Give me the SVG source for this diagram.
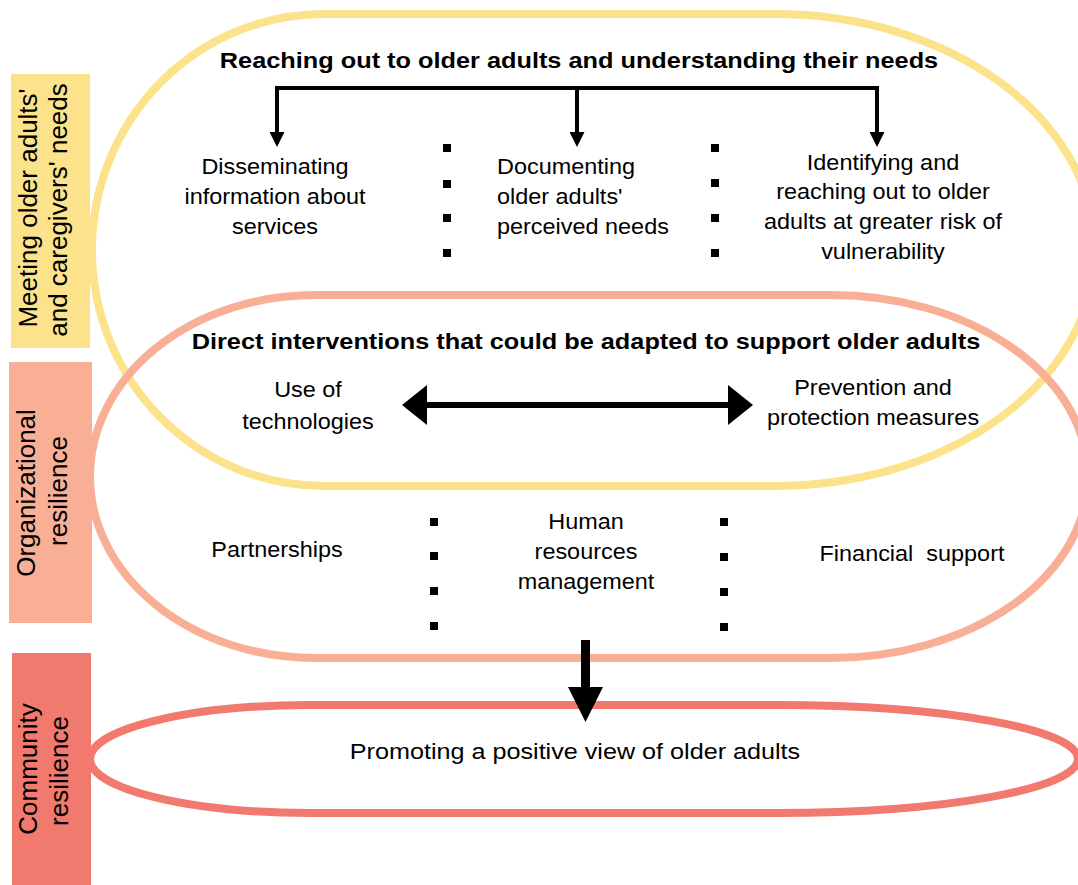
<svg xmlns="http://www.w3.org/2000/svg" width="1078" height="885" viewBox="0 0 1078 885">
  <style>
    .band { stroke: none; }
    .zone { fill: none; stroke-width: 8; }
    .yellow { fill: #FCE38B; }
    .salmon { fill: #F8AF95; }
    .red { fill: #F2796D; }
    .z-yellow { stroke: #FCE38B; }
    .z-salmon { stroke: #F8AF95; }
    .z-red { stroke: #F2796D; }
    text { font-family: "Liberation Sans", Arial, sans-serif; fill: #000; }
    .lbl { font-size: 26px; text-anchor: middle; }
    .t { font-size: 22px; }
    .b { font-size: 22.5px; font-weight: bold; }
    .mid { text-anchor: middle; }
    .thin { fill: none; stroke: #000; stroke-width: 4; }
    .thick { fill: none; stroke: #000; stroke-width: 6; }
  </style>
  <defs>
    <marker id="head-s" markerUnits="userSpaceOnUse" markerWidth="15" markerHeight="15" refX="0" refY="7.5" orient="auto-start-reverse" viewBox="0 0 15 15">
      <path d="M0,0 L15,7.5 L0,15 Z" fill="#000"/>
    </marker>
    <marker id="head-l" markerUnits="userSpaceOnUse" markerWidth="25" markerHeight="40" refX="0" refY="20" orient="auto-start-reverse" viewBox="0 0 25 40">
      <path d="M0,0 L25,20 L0,40 Z" fill="#000"/>
    </marker>
    <rect id="dot" width="8" height="8" fill="#000"/>
  </defs>

  <rect width="1078" height="885" fill="#fff"/>

  <!-- side bands -->
  <g id="band-needs">
    <rect class="band yellow" x="11" y="74" width="79" height="274"/>
    <text class="lbl" transform="translate(37 208) rotate(-90)">Meeting older adults'</text>
    <text class="lbl" transform="translate(67 210) rotate(-90)">and caregivers' needs</text>
  </g>
  <g id="band-organizational">
    <rect class="band salmon" x="9" y="362" width="83" height="261"/>
    <text class="lbl" transform="translate(35 493) rotate(-90)">Organizational</text>
    <text class="lbl" transform="translate(67 491) rotate(-90)">resilience</text>
  </g>
  <g id="band-community">
    <rect class="band red" x="12" y="653" width="79" height="232"/>
    <text class="lbl" transform="translate(37 769) rotate(-90)">Community</text>
    <text class="lbl" transform="translate(68 771) rotate(-90)">resilience</text>
  </g>

  <!-- rounded zones -->
  <g id="zone-needs">
    <path class="zone z-yellow" d="M324 14 H775 A320 236 0 0 1 1095 250 A320 236 0 0 1 775 486 H324 A232 236 0 0 1 92 250 A232 236 0 0 1 324 14 Z"/>
  </g>
  <g id="zone-organizational">
    <path class="zone z-salmon" d="M315 295 H831 A257 181.5 0 0 1 1088 476.5 A257 181.5 0 0 1 831 658 H315 A225 181.5 0 0 1 90 476.5 A225 181.5 0 0 1 315 295 Z"/>
  </g>
  <g id="zone-community">
    <path class="zone z-red" d="M310 705 H778 A300 54 0 0 1 1078 759 A300 54 0 0 1 778 813 H310 A220 54 0 0 1 90 759 A220 54 0 0 1 310 705 Z"/>
  </g>

  <!-- outreach -->
  <g id="title-reaching">
    <text class="b mid" transform="translate(579 68) scale(1.125 1)">Reaching out to older adults and understanding their needs</text>
  </g>
  <g id="node-disseminating">
    <text class="t mid" transform="translate(275 174) scale(1.065 1)">Disseminating</text>
    <text class="t mid" transform="translate(275 204) scale(1.065 1)">information about</text>
    <text class="t mid" transform="translate(275 234) scale(1.065 1)">services</text>
  </g>
  <g id="node-documenting">
    <text class="t" transform="translate(497 174) scale(1.065 1)">Documenting</text>
    <text class="t" transform="translate(497 204) scale(1.065 1)">older adults'</text>
    <text class="t" transform="translate(497 234) scale(1.065 1)">perceived needs</text>
  </g>
  <g id="node-identifying">
    <text class="t mid" transform="translate(883 170) scale(1.065 1)">Identifying and</text>
    <text class="t mid" transform="translate(883 199) scale(1.065 1)">reaching out to older</text>
    <text class="t mid" transform="translate(883 229) scale(1.065 1)">adults at greater risk of</text>
    <text class="t mid" transform="translate(883 259) scale(1.065 1)">vulnerability</text>
  </g>

  <!-- direct interventions -->
  <g id="title-direct">
    <text class="b mid" transform="translate(586 349) scale(1.125 1)">Direct interventions that could be adapted to support older adults</text>
  </g>
  <g id="node-technologies">
    <text class="t mid" transform="translate(308 397) scale(1.065 1)">Use of</text>
    <text class="t mid" transform="translate(308 429) scale(1.065 1)">technologies</text>
  </g>
  <g id="node-prevention">
    <text class="t mid" transform="translate(873 395) scale(1.065 1)">Prevention and</text>
    <text class="t mid" transform="translate(873 425) scale(1.065 1)">protection measures</text>
  </g>

  <!-- organizational -->
  <g id="node-partnerships">
    <text class="t mid" transform="translate(277 557) scale(1.065 1)">Partnerships</text>
  </g>
  <g id="node-hr">
    <text class="t mid" transform="translate(586 529) scale(1.065 1)">Human</text>
    <text class="t mid" transform="translate(586 559) scale(1.065 1)">resources</text>
    <text class="t mid" transform="translate(586 589) scale(1.065 1)">management</text>
  </g>
  <g id="node-financial">
    <text class="t mid" transform="translate(912 561) scale(1.065 1)">Financial&#160; support</text>
  </g>

  <!-- community -->
  <g id="node-promoting">
    <text class="t mid" transform="translate(575 759) scale(1.145 1)">Promoting a positive view of older adults</text>
  </g>

  <!-- dotted separators -->
  <g id="separators">
    <use href="#dot" x="443" y="144"/>
    <use href="#dot" x="443" y="180"/>
    <use href="#dot" x="443" y="214"/>
    <use href="#dot" x="443" y="249"/>
    <use href="#dot" x="711" y="144"/>
    <use href="#dot" x="711" y="179"/>
    <use href="#dot" x="711" y="214"/>
    <use href="#dot" x="711" y="249"/>
    <use href="#dot" x="430" y="518"/>
    <use href="#dot" x="430" y="552"/>
    <use href="#dot" x="430" y="587"/>
    <use href="#dot" x="430" y="622"/>
    <use href="#dot" x="720" y="518"/>
    <use href="#dot" x="720" y="553"/>
    <use href="#dot" x="720" y="588"/>
    <use href="#dot" x="720" y="623"/>
  </g>

  <!-- connectors -->
  <g id="connectors">
    <path class="thin" d="M277 132 V88 H877 V132" marker-start="url(#head-s)" marker-end="url(#head-s)"/>
    <path class="thin" d="M577 88 V132" marker-end="url(#head-s)"/>
    <path class="thick" d="M427 405 H728" marker-start="url(#head-l)" marker-end="url(#head-l)"/>
    <path d="M581 640 H590 V687 H603 L585.5 722 L568 687 H581 Z" fill="#000"/>
  </g>
</svg>
